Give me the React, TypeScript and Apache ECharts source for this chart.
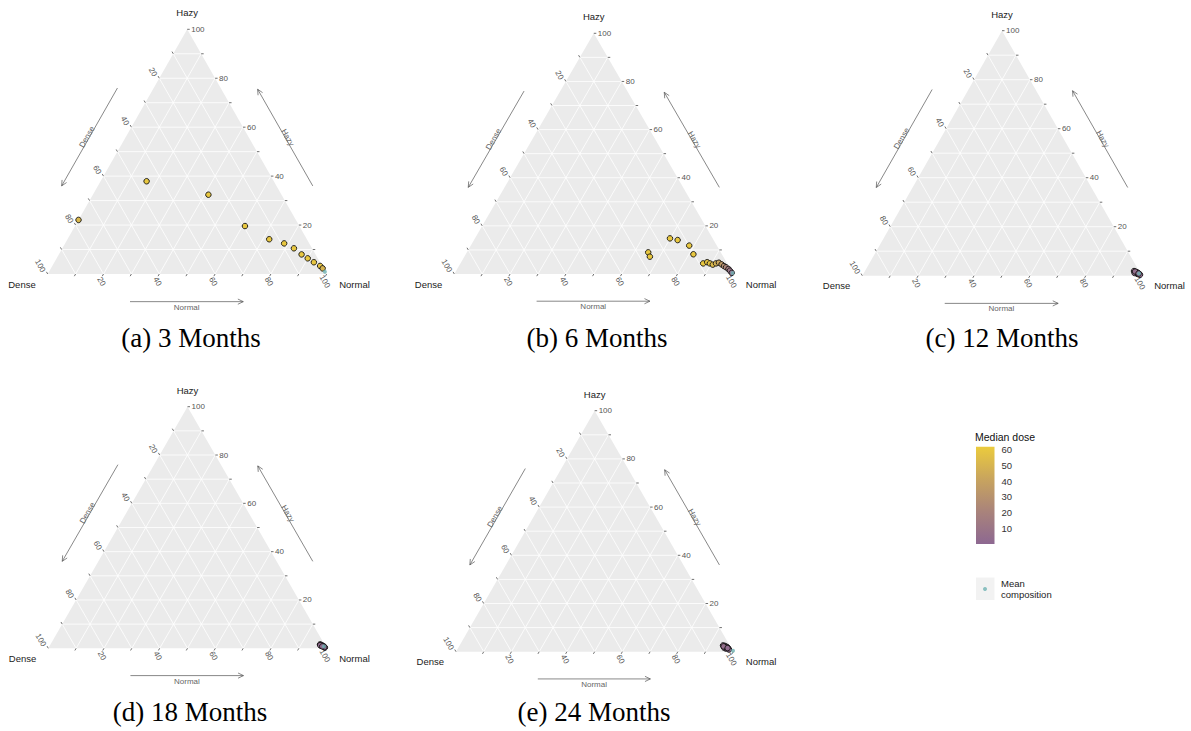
import React, { useEffect, useRef } from "react";
import * as echarts from "echarts";

// ---------- axis / scale definitions ----------
const gridValues = [10, 20, 30, 40, 50, 60, 70, 80, 90];
const tickValues = [10, 20, 30, 40, 50, 60, 70, 80, 90, 100];
const labelStep = 20;
const vertexNames = ["Hazy", "Dense", "Normal"];
const captions = ["(a) 3 Months", "(b) 6 Months", "(c) 12 Months", "(d) 18 Months", "(e) 24 Months"];

// ---------- data: Hazy %, Normal % (Dense = 100 - Hazy - Normal), median dose ----------
// (a) 3 Months
const hazyA = [37.9, 32.4, 19.6, 14.2, 12.5, 10.5, 8.0, 6.4, 4.8, 3.3, 2.3, 22.1];
const normalA = [16.5, 41.4, 60.9, 72.3, 78.5, 83.0, 87.0, 90.0, 93.0, 96.0, 97.4, 0.0];
const doseA = [60, 60, 60, 60, 60, 60, 60, 60, 59, 58, 50, 52];
// (b) 6 Months
const hazyB = [14.8, 14.1, 11.8, 8.2, 9.0, 7.2, 4.4, 4.9, 4.4, 3.9, 4.4, 4.7, 4.0, 3.3, 2.8, 2.1, 1.4, 0.5];
const normalB = [69.9, 73.0, 78.3, 81.6, 65.0, 66.5, 87.0, 88.2, 89.4, 90.7, 91.6, 92.5, 93.8, 95.0, 96.0, 97.2, 98.1, 99.2];
const doseB = [60, 60, 60, 60, 60, 60, 60, 58, 57, 53, 48, 42, 35, 28, 22, 16, 10, 4];
// (c) 12 Months
const hazyC = [1.9, 1.5, 1.1, 0.7, 0.7, 1.1, 1.4, 0.4, 1.7, 0.9];
const normalC = [96.3, 97.2, 98.1, 98.8, 98.1, 96.9, 97.6, 99.2, 96.8, 98.4];
const doseC = [6, 5, 4, 3, 3, 5, 4, 2, 5, 3];
// (d) 18 Months
const hazyD = [1.6, 1.2, 0.7, 1.0, 0.3, 1.4, 0.9, 0.5, 1.3, 0.8];
const normalD = [96.8, 97.8, 98.7, 97.5, 99.2, 97.2, 98.2, 98.9, 97.0, 98.0];
const doseD = [4, 3, 2, 3, 2, 4, 3, 2, 3, 2];
// (e) 24 Months
const hazyE = [2.6, 2.4, 1.95, 1.3, 1.3, 1.7, 0.9, 2.0, 2.2, 1.5];
const normalE = [95.0, 95.8, 96.8, 97.6, 96.7, 95.8, 98.0, 96.2, 95.4, 97.2];
const doseE = [6, 5, 4, 3, 4, 5, 2, 4, 5, 3];
// mean composition per panel
const meanHazy = [0.9, 0.4, 0.9, 0.8, 0.4];
const meanNormal = [98.9, 99.5, 98.6, 98.6, 99.7];

// colour scale
const doseMin = 0;
const doseMax = 62;
const legendTicks = [10, 20, 30, 40, 50, 60];
const doseColors = ["#8D6891", "#A9837B", "#C8A45E", "#EBCB3D"];

const panelData = [
  { hazy: hazyA, normal: normalA, dose: doseA },
  { hazy: hazyB, normal: normalB, dose: doseB },
  { hazy: hazyC, normal: normalC, dose: doseC },
  { hazy: hazyD, normal: normalD, dose: doseD },
  { hazy: hazyE, normal: normalE, dose: doseE },
];

// ---------- layout ----------
const panelBoxes = [
  { left: 47.7, top: 29.3, width: 279, height: 244.7 },
  { left: 454.3, top: 33.3, width: 279, height: 240.7 },
  { left: 862.3, top: 30.7, width: 279.4, height: 245 },
  { left: 48.3, top: 406.7, width: 278.4, height: 241.6 },
  { left: 456, top: 410.7, width: 277.3, height: 241 },
];
const captionCenters = [
  [191, 339],
  [597, 339],
  [1002, 339],
  [190, 713],
  [594, 713],
];

const FONT = "'Liberation Sans', Arial, Helvetica, sans-serif";
const SERIF = "'Liberation Serif', 'Times New Roman', serif";

// ternary (Hazy, Normal) -> cartesian (x, y) in 0..100 units
const toXY = (h: number, n: number) => [n + h / 2, h];
const vertexDefs = [
  { h: 100, n: 0 },
  { h: 0, n: 0 },
  { h: 0, n: 100 },
];

const seg = (p: number[], q: number[], stroke: string, lw: number) => ({
  type: "line",
  shape: { x1: p[0], y1: p[1], x2: q[0], y2: q[1] },
  style: { stroke, lineWidth: lw },
});

const txt = (
  s: string,
  x: number,
  y: number,
  rotation: number,
  align: string,
  size: number,
  fill: string
) => ({
  type: "text",
  x,
  y,
  rotation,
  style: {
    text: s,
    x: 0,
    y: 0,
    align,
    verticalAlign: "middle",
    fontSize: size,
    fontFamily: FONT,
    fill,
  },
});

const arrow = (p0: number[], p1: number[]) => {
  const dx = p1[0] - p0[0];
  const dy = p1[1] - p0[1];
  const len = Math.hypot(dx, dy);
  const ux = -dx / len;
  const uy = -dy / len;
  const head = 6;
  const a = Math.PI / 7;
  const rot = (t: number) => [
    p1[0] + head * (ux * Math.cos(t) - uy * Math.sin(t)),
    p1[1] + head * (ux * Math.sin(t) + uy * Math.cos(t)),
  ];
  return [
    seg(p0, p1, "#555", 0.7),
    {
      type: "polyline",
      shape: { points: [rot(a), p1, rot(-a)] },
      style: { stroke: "#555", lineWidth: 0.7, fill: "none" },
    },
  ];
};

function buildOption() {
  const grids: any[] = panelBoxes.map((b) => ({ ...b, containLabel: false }));
  grids.push({ left: 976, top: 446.7, width: 18.5, height: 97.3 });

  const xAxis: any[] = panelBoxes.map((_, i) => ({ type: "value", gridIndex: i, min: 0, max: 100, show: false }));
  xAxis.push({ type: "value", gridIndex: 5, min: 0, max: 1, show: false });

  const yAxis: any[] = panelBoxes.map((_, i) => ({ type: "value", gridIndex: i, min: 0, max: 100, show: false }));
  const legendTick = {
    show: true,
    inside: true,
    length: 4,
    lineStyle: { color: "#ffffff", width: 1 },
    customValues: legendTicks,
  };
  yAxis.push({
    type: "value",
    gridIndex: 5,
    min: doseMin,
    max: doseMax,
    interval: 10,
    position: "right",
    axisLine: { show: false },
    splitLine: { show: false },
    axisTick: legendTick,
    axisLabel: {
      customValues: legendTicks,
      fontSize: 9.5,
      color: "#333",
      margin: 7,
      fontFamily: FONT,
    },
  });
  yAxis.push({
    type: "value",
    gridIndex: 5,
    min: doseMin,
    max: doseMax,
    interval: 10,
    position: "left",
    axisLine: { show: false },
    splitLine: { show: false },
    axisTick: legendTick,
    axisLabel: { show: false },
  });

  const series: any[] = [];
  const doseSeries: number[] = [];

  panelData.forEach((pd, i) => {
    // frame: background triangle, arrows, vertex titles
    series.push({
      type: "custom",
      xAxisIndex: i,
      yAxisIndex: i,
      z: 1,
      silent: true,
      clip: false,
      data: vertexDefs.map((v) => toXY(v.h, v.n)),
      renderItem: (params: any, api: any) => {
        const idx = params.dataIndex;
        const P = vertexDefs.map((v) => api.coord(toXY(v.h, v.n)));
        const children: any[] = [];
        if (idx === 0) {
          children.push({ type: "polygon", shape: { points: P }, style: { fill: "#EBEBEB" } });
          // Dense arrow (left side, pointing down-left)
          const d0 = api.coord([76 / 2 - 13, 76]);
          const d1 = api.coord([36 / 2 - 13, 36]);
          children.push(...arrow(d0, d1));
          children.push(txt("Dense", (d0[0] + d1[0]) / 2 - 2.5, (d0[1] + d1[1]) / 2, Math.PI / 3, "center", 8, "#666"));
          // Hazy arrow (right side, pointing up-left)
          const h0 = api.coord([100 - 36 / 2 + 13, 36]);
          const h1 = api.coord([100 - 75.5 / 2 + 13, 75.5]);
          children.push(...arrow(h0, h1));
          children.push(txt("Hazy", (h0[0] + h1[0]) / 2 + 2.5, (h0[1] + h1[1]) / 2, -Math.PI / 3, "center", 8, "#666"));
          // Normal arrow (bottom, pointing right)
          const n0 = api.coord([29.5, -11.3]);
          const n1 = api.coord([70.1, -11.3]);
          children.push(...arrow(n0, n1));
          children.push(txt("Normal", (n0[0] + n1[0]) / 2, n0[1] + 5.5, 0, "center", 8, "#666"));
        }
        const p = P[idx];
        if (idx === 0) children.push(txt(vertexNames[0], p[0], p[1] - 16.5, 0, "center", 9.5, "#1a1a1a"));
        if (idx === 1) children.push(txt(vertexNames[1], p[0] - 12, p[1] + 10, 0, "right", 9.5, "#1a1a1a"));
        if (idx === 2) children.push(txt(vertexNames[2], p[0] + 12.5, p[1] + 10, 0, "left", 9.5, "#1a1a1a"));
        return { type: "group", children };
      },
    });
    // white gridlines
    series.push({
      type: "custom",
      xAxisIndex: i,
      yAxisIndex: i,
      z: 2,
      silent: true,
      clip: false,
      data: gridValues.map((v) => [v, v]),
      renderItem: (params: any, api: any) => {
        const v = api.value(0);
        const c = (a: number[]) => api.coord(a);
        return {
          type: "group",
          children: [
            seg(c(toXY(v, 0)), c(toXY(v, 100 - v)), "#ffffff", 0.8),
            seg(c(toXY(0, v)), c(toXY(100 - v, v)), "#ffffff", 0.8),
            seg(c(toXY(0, 100 - v)), c(toXY(100 - v, 0)), "#ffffff", 0.8),
          ],
        };
      },
    });
    // ticks and tick labels
    series.push({
      type: "custom",
      xAxisIndex: i,
      yAxisIndex: i,
      z: 2,
      silent: true,
      clip: false,
      data: tickValues.map((v) => [v, v]),
      renderItem: (params: any, api: any) => {
        const v = api.value(0);
        const r = api.coord(toXY(v, 100 - v)); // Hazy = v, right edge
        const l = api.coord(toXY(100 - v, 0)); // Dense = v, left edge
        const b = api.coord(toXY(0, v)); // Normal = v, bottom edge
        const T = 2.5;
        const ch: any[] = [
          seg(r, [r[0] + T, r[1]], "#333", 0.7),
          seg(l, [l[0] - T * 0.5, l[1] - T * 0.866], "#333", 0.7),
          seg(b, [b[0] - T * 0.5, b[1] + T * 0.866], "#333", 0.7),
        ];
        if (v % labelStep === 0) {
          const s = String(v);
          ch.push(txt(s, r[0] + 4, r[1], 0, "left", 8, "#555"));
          ch.push(txt(s, l[0] - 4.2, l[1] - 2.4, -Math.PI / 3, "right", 8, "#555"));
          ch.push(txt(s, b[0] - 2, b[1] + 7.5, -Math.PI / 3, "center", 8, "#555"));
        }
        return { type: "group", children: ch };
      },
    });
    // data points
    doseSeries.push(series.length);
    series.push({
      type: "scatter",
      name: "Median dose",
      xAxisIndex: i,
      yAxisIndex: i,
      z: 3,
      clip: false,
      symbol: "circle",
      symbolSize: 5.5,
      itemStyle: { borderColor: "#111", borderWidth: 0.9, opacity: 1 },
      data: pd.hazy.map((h, k) => [...toXY(h, pd.normal[k]), pd.dose[k]]),
    });
    // mean composition
    series.push({
      type: "scatter",
      name: "Mean composition",
      xAxisIndex: i,
      yAxisIndex: i,
      z: 4,
      clip: false,
      symbol: "circle",
      symbolSize: 4,
      itemStyle: { color: "#6FB3B3", borderWidth: 0 },
      data: [toXY(meanHazy[i], meanNormal[i])],
    });
  });

  // colour bar
  series.push({
    type: "custom",
    xAxisIndex: 5,
    yAxisIndex: 5,
    z: 1,
    silent: true,
    data: [
      [0, doseMin],
      [1, doseMax],
    ],
    renderItem: (params: any, api: any) => {
      if (params.dataIndex !== 0) return null;
      const p = api.coord([0, doseMax]);
      const q = api.coord([1, doseMin]);
      const n = doseColors.length;
      const stops = doseColors
        .map((c, k) => ({ offset: 1 - k / (n - 1), color: c }))
        .reverse();
      return {
        type: "rect",
        shape: { x: p[0], y: p[1], width: q[0] - p[0], height: q[1] - p[1] },
        style: { fill: new echarts.graphic.LinearGradient(0, 0, 0, 1, stops) },
      };
    },
  });

  return {
    animation: false,
    backgroundColor: "#ffffff",
    textStyle: { fontFamily: FONT },
    grid: grids,
    xAxis,
    yAxis,
    title: [
      ...captions.map((t, i) => ({
        text: t,
        left: captionCenters[i][0],
        top: captionCenters[i][1] - 15,
        textAlign: "center",
        padding: 0,
        textStyle: { fontFamily: SERIF, fontSize: 27, fontWeight: "normal", color: "#000" },
      })),
      {
        text: "Median dose",
        left: 975,
        top: 431,
        padding: 0,
        textStyle: { fontFamily: FONT, fontSize: 10.5, fontWeight: "normal", color: "#111" },
      },
    ],
    visualMap: {
      type: "continuous",
      show: false,
      min: doseMin,
      max: doseMax,
      dimension: 2,
      seriesIndex: doseSeries,
      inRange: { color: doseColors },
    },
    legend: {
      show: true,
      left: 983,
      top: 578,
      padding: 0,
      itemWidth: 4,
      itemHeight: 4,
      selectedMode: false,
      data: [{ name: "Mean composition", icon: "circle" }],
      formatter: () => "Mean\ncomposition",
      textStyle: { fontSize: 9.5, lineHeight: 11, color: "#222", fontFamily: FONT, padding: [0, 0, 0, 9] },
    },
    graphic: [
      {
        type: "rect",
        z: -1,
        silent: true,
        shape: { x: 976, y: 577.5, width: 18.5, height: 22.5 },
        style: { fill: "#F2F2F2" },
      },
    ],
    series,
  };
}

export default function App() {
  const ref = useRef<HTMLDivElement>(null);
  useEffect(() => {
    if (!ref.current) return;
    const chart = echarts.init(ref.current, null, { renderer: "svg" });
    chart.setOption(buildOption() as any);
    return () => chart.dispose();
  }, []);
  return (
    <div
      ref={ref}
      style={{ position: "absolute", left: 0, top: 0, width: 1191, height: 731, background: "#fff" }}
    />
  );
}
